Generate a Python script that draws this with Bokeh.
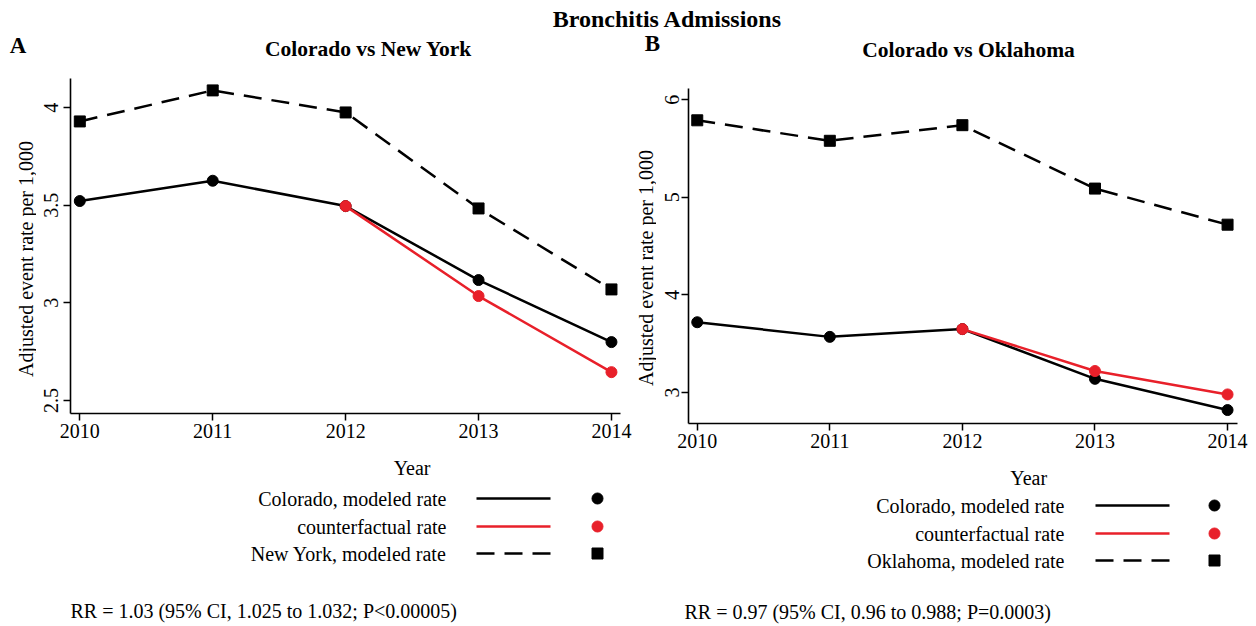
import math
from bokeh.plotting import figure
from bokeh.layouts import column, row
from bokeh.models import Range1d, FixedTicker
from bokeh.core.properties import value
from bokeh.embed import file_html
from bokeh.resources import INLINE

# ---------------- data ----------------
years = [2010, 2011, 2012, 2013, 2014]
cf_years = [2012, 2013, 2014]

a_colorado = [3.522, 3.626, 3.496, 3.117, 2.799]
a_counterfactual = [3.496, 3.035, 2.645]
a_newyork = [3.930, 4.089, 3.976, 3.484, 3.069]

b_colorado = [3.72, 3.57, 3.65, 3.14, 2.82]
b_counterfactual = [3.65, 3.22, 2.98]
b_oklahoma = [5.79, 5.58, 5.74, 5.09, 4.72]

a_yticks = [2.5, 3, 3.5, 4]
a_ytick_labels = ["2.5", "3", "3.5", "4"]
b_yticks = [3, 4, 5, 6]
b_ytick_labels = ["3", "4", "5", "6"]

main_title = "Bronchitis Admissions"
a_letter, a_title = "A", "Colorado vs New York"
b_letter, b_title = "B", "Colorado vs Oklahoma"
y_label = "Adjusted event rate per 1,000"
x_label = "Year"
a_legend = ["Colorado, modeled rate", "counterfactual rate", "New York, modeled rate"]
b_legend = ["Colorado, modeled rate", "counterfactual rate", "Oklahoma, modeled rate"]
a_rr = "RR = 1.03 (95% CI, 1.025 to 1.032; P<0.00005)"
b_rr = "RR = 0.97 (95% CI, 0.96 to 0.988; P=0.0003)"

FONT = "Liberation Serif"
RED = "#e8202a"
LW = 2.5
DASH = "18 10"
MSIZE = 11
FS = 20


def canvas(w, h, xr, yr, borders=(0, 0, 0, 0)):
    left, right, top, bottom = borders
    p = figure(width=w, height=h, x_range=Range1d(*xr), y_range=Range1d(*yr),
               min_border_left=left, min_border_right=right,
               min_border_top=top, min_border_bottom=bottom,
               toolbar_location=None, output_backend="svg",
               x_axis_location=None, y_axis_location=None,
               outline_line_color=None, background_fill_color="white",
               border_fill_color="white")
    p.xgrid.visible = False
    p.ygrid.visible = False
    return p


def txt(p, x, y, s, size, bold=False, align="left", angle=0.0):
    p.text(x=[x], y=[y], text=[s], text_font=value(FONT),
           text_font_size=value(f"{size}px"),
           text_font_style="bold" if bold else "normal",
           text_align=align, text_baseline="middle", text_color="black",
           angle=angle)


def make_panel(xr, yr, left, fw, right, top, fh, bottom, yticks, ylabels, standoff):
    p = figure(width=left + fw + right, height=top + fh + bottom,
               x_range=Range1d(*xr), y_range=Range1d(*yr),
               min_border_left=left, min_border_right=right,
               min_border_top=top, min_border_bottom=bottom,
               toolbar_location=None, output_backend="svg",
               outline_line_color=None, background_fill_color="white",
               border_fill_color="white")
    p.xgrid.visible = False
    p.ygrid.visible = False
    p.xaxis.ticker = FixedTicker(ticks=years)
    p.yaxis.ticker = FixedTicker(ticks=yticks)
    p.xaxis.major_label_overrides = {y: str(y) for y in years}
    p.yaxis.major_label_overrides = {t: l for t, l in zip(yticks, ylabels)}
    for ax in p.axis:
        ax.axis_line_color = "black"
        ax.axis_line_width = 1.6
        ax.major_tick_line_color = "black"
        ax.major_tick_line_width = 1.5
        ax.major_tick_in = 0
        ax.major_tick_out = 7
        ax.minor_tick_line_color = None
        ax.major_label_text_font = FONT
        ax.major_label_text_font_size = f"{FS}px"
        ax.major_label_text_color = "black"
    p.xaxis.major_label_standoff = 3
    p.yaxis.major_label_standoff = standoff
    p.yaxis.major_label_orientation = "vertical"
    return p


def draw_series(p, colorado, cf, other):
    p.line(years, other, line_color="black", line_width=LW, line_dash=DASH)
    p.scatter(years, other, marker="square", size=MSIZE, color="black")
    p.line(years, colorado, line_color="black", line_width=LW)
    p.scatter(years, colorado, marker="circle", size=MSIZE, color="black")
    p.line(cf_years, cf, line_color=RED, line_width=LW)
    p.scatter(cf_years, cf, marker="circle", size=MSIZE, color=RED)


def make_ylab(w, h, yr, top, fh, bottom, x_mid, page_top, page_y):
    # narrow strip left of a panel holding the rotated y-axis title
    p = canvas(w, h, (0, w), yr, borders=(0, 0, top, bottom))
    y0, y1 = yr
    frame_top = page_top + top
    yd = y1 - (page_y - frame_top) / fh * (y1 - y0)
    txt(p, x_mid, yd, y_label, FS, align="center", angle=math.pi / 2)
    return p


def make_legend(x0, w, y0, h, labels, rows_y, text_right, line_x0, line_x1,
                mark_x, rr, rr_x, rr_y, year_x, year_y):
    p = canvas(w, h, (x0, x0 + w), (y0 + h, y0))
    txt(p, year_x, year_y, x_label, FS, align="center")
    styles = [("black", None, "circle"), (RED, None, "circle"),
              ("black", DASH, "square")]
    for lab, yy, (col, dash, mk) in zip(labels, rows_y, styles):
        txt(p, text_right, yy, lab, FS, align="right")
        kw = dict(line_color=col, line_width=LW)
        if dash:
            kw["line_dash"] = dash
        p.line([line_x0, line_x1], [yy, yy], **kw)
        p.scatter([mark_x], [yy], marker=mk, size=MSIZE, color=col)
    txt(p, rr_x, rr_y, rr, FS)
    return p


# ---------------- header (titles) ----------------
TOP_H = 60
top = canvas(1256, TOP_H, (0, 1256), (TOP_H, 0))
txt(top, 667, 18, main_title, 24, bold=True, align="center")
txt(top, 17.5, 45, a_letter, 23, bold=True, align="center")
txt(top, 368, 48, a_title, 21.5, bold=True, align="center")
txt(top, 652, 43, b_letter, 23, bold=True, align="center")
txt(top, 968, 49, b_title, 21.5, bold=True, align="center")

# ---------------- panel A ----------------
A_YLAB_W = 36
A_LEFT, A_FW, A_RIGHT = 34, 550, 12
A_TOP, A_FH, A_BOTTOM = 18, 335, 40
A_XR = (2009.93, 2014.068)
A_YR = (2.433, 4.150)
A_H = A_TOP + A_FH + A_BOTTOM

plotA = make_panel(A_XR, A_YR, A_LEFT, A_FW, A_RIGHT, A_TOP, A_FH, A_BOTTOM,
                   a_yticks, a_ytick_labels, 5)
draw_series(plotA, a_colorado, a_counterfactual, a_newyork)
ylabA = make_ylab(A_YLAB_W, A_H, A_YR, A_TOP, A_FH, A_BOTTOM, 25, TOP_H, 258.5)

a_frame_left = A_YLAB_W + A_LEFT
a_year_x = a_frame_left + (2012.5 - A_XR[0]) / (A_XR[1] - A_XR[0]) * A_FW
A_W = A_YLAB_W + A_LEFT + A_FW + A_RIGHT
legA_top = TOP_H + A_H
legA = make_legend(0, A_W, legA_top, 626 - legA_top, a_legend,
                   [498, 526, 553], 446, 476, 550, 597,
                   a_rr, 70, 610, a_year_x, 467)

# ---------------- panel B ----------------
B_X0 = A_W
B_YLAB_W = 24
B_LEFT, B_FW, B_RIGHT = 32, 549, 19
B_TOP, B_FH, B_BOTTOM = 28, 335, 40
B_XR = (2009.934, 2014.075)
B_YR = (2.682, 6.116)
B_H = B_TOP + B_FH + B_BOTTOM

plotB = make_panel(B_XR, B_YR, B_LEFT, B_FW, B_RIGHT, B_TOP, B_FH, B_BOTTOM,
                   b_yticks, b_ytick_labels, 2)
draw_series(plotB, b_colorado, b_counterfactual, b_oklahoma)
ylabB = make_ylab(B_YLAB_W, B_H, B_YR, B_TOP, B_FH, B_BOTTOM, 13, TOP_H, 267.5)

b_frame_left = B_X0 + B_YLAB_W + B_LEFT
b_year_x = b_frame_left + (2012.5 - B_XR[0]) / (B_XR[1] - B_XR[0]) * B_FW
B_W = B_YLAB_W + B_LEFT + B_FW + B_RIGHT
legB_top = TOP_H + B_H
legB = make_legend(B_X0, B_W, legB_top, 626 - legB_top, b_legend,
                   [505, 533, 560], 1064, 1095, 1169, 1214,
                   b_rr, 684, 611, b_year_x, 477)

layout = column(top,
                row(column(row(ylabA, plotA), legA),
                    column(row(ylabB, plotB), legB)))

open("out.html", "w").write(file_html(layout, INLINE))
